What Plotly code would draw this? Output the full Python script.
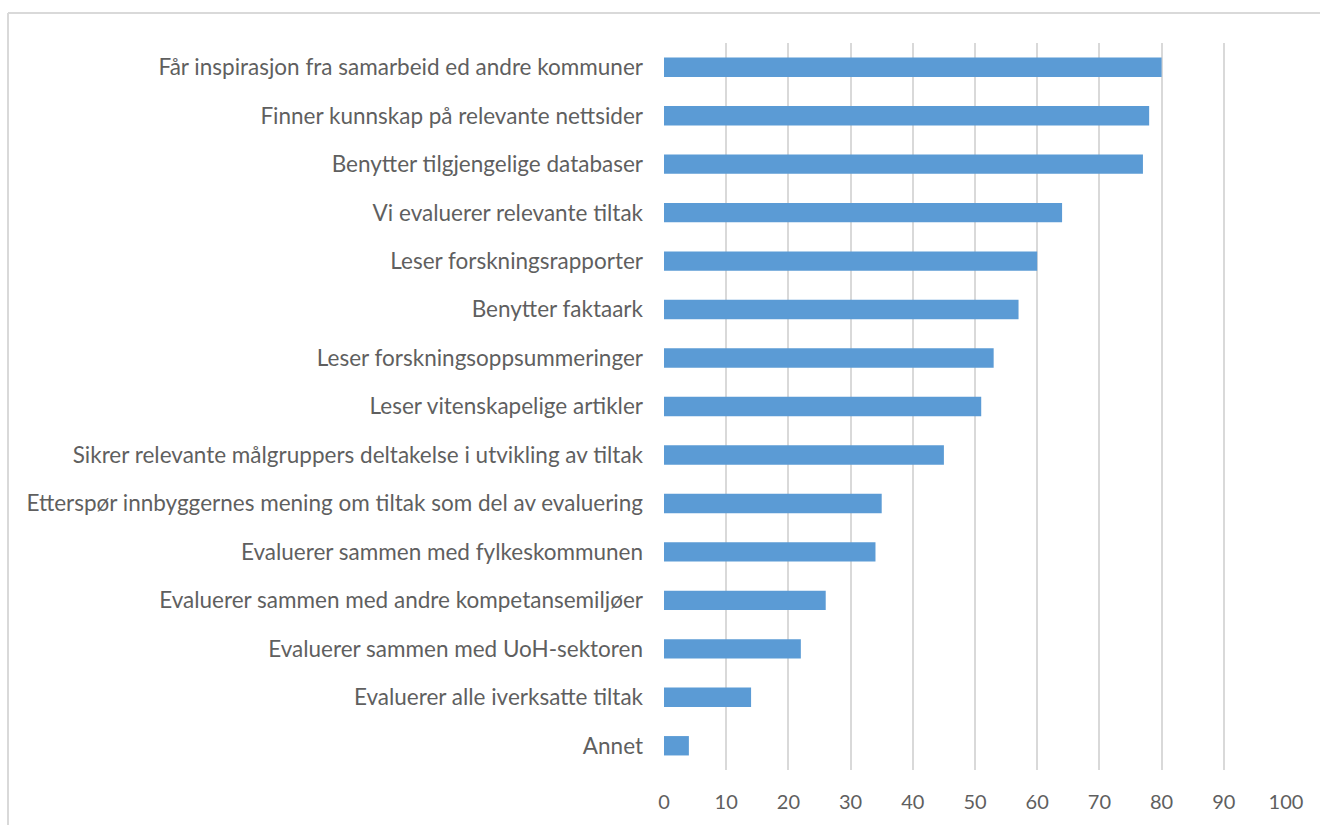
import plotly.graph_objects as go

categories = [
    "Får inspirasjon fra samarbeid ed andre kommuner",
    "Finner kunnskap på relevante nettsider",
    "Benytter tilgjengelige databaser",
    "Vi evaluerer relevante tiltak",
    "Leser forskningsrapporter",
    "Benytter faktaark",
    "Leser forskningsoppsummeringer",
    "Leser vitenskapelige artikler",
    "Sikrer relevante målgruppers deltakelse i utvikling av tiltak",
    "Etterspør innbyggernes mening om tiltak som del av evaluering",
    "Evaluerer sammen med fylkeskommunen",
    "Evaluerer sammen med andre kompetansemiljøer",
    "Evaluerer sammen med UoH-sektoren",
    "Evaluerer alle iverksatte tiltak",
    "Annet",
]
values = [80, 78, 77, 64, 60, 57, 53, 51, 45, 35, 34, 26, 22, 14, 4]
x_ticks = [0, 10, 20, 30, 40, 50, 60, 70, 80, 90, 100]

W, H = 1320, 825
ML, MR, MT, MB = 664, 34, 43, 55
PW = W - ML - MR
PH = H - MT - MB

fig = go.Figure(
    go.Bar(
        x=values,
        y=categories,
        orientation="h",
        marker=dict(color="#5b9bd5", line=dict(width=0)),
        width=0.4,
    )
)

font_family = "Lato, 'Open Sans', sans-serif"

fig.update_layout(
    width=W,
    height=H,
    margin=dict(l=ML, r=MR, t=MT, b=MB),
    paper_bgcolor="white",
    plot_bgcolor="white",
    showlegend=False,
    font=dict(family=font_family, color="#595959", size=20),
)

fig.update_xaxes(
    range=[0, 100],
    tickvals=x_ticks,
    ticktext=[str(v) for v in x_ticks],
    showgrid=True,
    gridcolor="#d9d9d9",
    gridwidth=2,
    zeroline=False,
    showline=False,
    ticks="",
    ticklabelstandoff=18,
    tickfont=dict(size=20, color="#5f5f5f"),
    fixedrange=True,
)

fig.update_yaxes(
    categoryorder="array",
    categoryarray=categories[::-1],
    range=[-0.5, len(categories) - 0.5],
    showgrid=False,
    zeroline=False,
    showline=False,
    ticks="",
    ticklabelstandoff=20,
    tickfont=dict(size=22.5, color="#5f5f5f"),
    fixedrange=True,
)

# Chart frame: top and left edges (the rest falls outside the page)
left_px, top_px = 8, 13
x_left = (left_px - ML) / PW
y_top = 1 + (MT - top_px) / PH
fig.add_shape(type="line", xref="paper", yref="paper",
              x0=x_left, x1=(W + 10 - ML) / PW, y0=y_top, y1=y_top,
              line=dict(color="#d9d9d9", width=2))
fig.add_shape(type="line", xref="paper", yref="paper",
              x0=x_left, x1=x_left, y0=y_top, y1=-(MB + 10) / PH,
              line=dict(color="#d9d9d9", width=2))

fig.write_html("out.html")
